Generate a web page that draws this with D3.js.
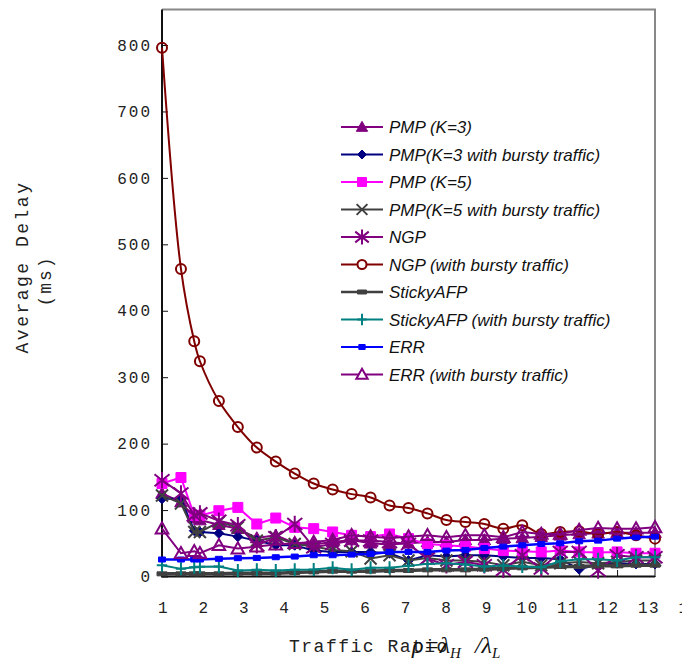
<!DOCTYPE html>
<html>
<head>
<meta charset="utf-8">
<script src="https://cdn.jsdelivr.net/npm/d3@7"></script>
<style>
  body { margin: 0; background: #fff; }
  svg { display: block; }
  .mono { font-family: "Liberation Mono", "DejaVu Sans Mono", monospace; fill: #222; }
  .legend text { font-family: "Liberation Sans", Arial, sans-serif; font-style: italic; font-size: 17px; fill: #111; }
</style>
</head>
<body>
<svg width="682" height="662"></svg>
<script>
// ---- data ----
const xValues = [1, 1.5, 1.85, 2, 2.5, 3, 3.5, 4, 4.5, 5, 5.5, 6, 6.5, 7, 7.5, 8, 8.5, 9, 9.5, 10, 10.5, 11, 11.5, 12, 12.5, 13, 13.5, 14];

const pmpK3        = [125, 112, 88, 85, 78, 72, 58, 62, 50, 48, 52, 55, 50, 48, 50, 52, 52, 55, 55, 57, 58, 60, 62, 64, 65, 66, 66, 66];
const pmpK3Bursty  = [117, 117, 69, 67, 65, 60, 54, 47, 47, 39, 37, 37, 37, 35, 24, 32, 30, 32, 32, 30, 28, 28, 26, 11, 18, 20, 19, 19];
const pmpK5        = [140, 149, 92, 92, 99, 104, 79, 88, 74, 72, 67, 62, 60, 64, 57, 49, 47, 45, 42, 39, 38, 37, 39, 37, 36, 37, 35, 35];
const pmpK5Bursty  = [122, 110, 67, 67, 82, 74, 54, 59, 49, 45, 40, 38, 27, 32, 24, 28, 24, 24, 22, 17, 22, 17, 20, 22, 20, 22, 24, 24];
const ngp          = [145, 125, 92, 95, 84, 77, 47, 59, 79, 44, 49, 54, 54, 52, 49, 27, 17, 22, 17, 10, 32, 12, 37, 37, 9, 32, 29, 29];
const ngpBursty    = [796, 463, 354, 324, 264, 225, 194, 173, 155, 140, 131, 124, 119, 107, 103, 95, 85, 82, 79, 72, 77, 64, 67, 68, 64, 67, 62, 57];
const sticky       = [4, 4, 4, 4, 4, 5, 5, 5, 6, 7, 8, 8, 8, 9, 9, 10, 10, 10, 11, 12, 13, 14, 15, 15, 16, 16, 17, 17];
const stickyBursty = [17, 11.5, 14, 14.5, 15, 9, 10, 9, 10, 10.5, 13, 10, 13, 13, 16, 19, 20, 18, 15, 16.6, 15, 14, 23, 26, 26, 24, 29, 29];
const err          = [25.6, 25.6, 25.6, 25.6, 26.6, 27.6, 28, 29, 30, 32, 32, 33, 34, 37, 37, 37, 39, 40, 43, 45, 47, 49, 50, 53, 54, 57, 59, 60];
const errBursty    = [72, 35, 38, 35, 47, 42, 45, 48, 50, 52, 55, 62, 60, 58, 60, 62, 59, 62, 62, 59, 67, 64, 64, 70, 73, 72, 72, 74];

const seriesNames = [
  "PMP (K=3)", "PMP(K=3 with bursty traffic)", "PMP (K=5)", "PMP(K=5 with bursty traffic)",
  "NGP", "NGP (with bursty traffic)", "StickyAFP", "StickyAFP (with bursty traffic)",
  "ERR", "ERR (with bursty traffic)"
];
const seriesValues = [pmpK3, pmpK3Bursty, pmpK5, pmpK5Bursty, ngp, ngpBursty, sticky, stickyBursty, err, errBursty];

const yTicks = [0, 100, 200, 300, 400, 500, 600, 700, 800];
const xTicks = [1, 2, 3, 4, 5, 6, 7, 8, 9, 10, 11, 12, 13, 14];

// ---- styles ----
const seriesColors  = ["#800080", "#000080", "#ff00ff", "#404040", "#800080", "#800000", "#404040", "#008080", "#0000ff", "#800080"];
const seriesMarkers = ["triangle", "diamond", "square", "times", "asterisk", "circle", "dash", "plus", "rect", "triangle"];
const seriesFilled  = [true, true, true, false, false, false, true, false, true, false];
const seriesWidths  = [2, 2, 2, 2, 2, 2, 3.5, 2, 2.5, 2];

const svg = d3.select("svg");

// scales: plot frame uses 13 tick intervals, labels are spread a bit wider
const x = d3.scaleLinear().domain([1, 14]).range([162, 655]);
const xLabel = d3.scaleLinear().domain([1, 14]).range([163, 689]);
const y = d3.scaleLinear().domain([0, 800]).range([576.5, 45]);
const yTop = 9.5;

// marker shapes
function markerPath(type, s) {
  const h = s / 2;
  switch (type) {
    case "triangle": return `M0,${-h * 1.05}L${h * 1.05},${h * 0.8}L${-h * 1.05},${h * 0.8}Z`;
    case "diamond": return `M0,${-h}L${h},0L0,${h}L${-h},0Z`;
    case "square": return `M${-h},${-h}H${h}V${h}H${-h}Z`;
    case "times": return `M${-h},${-h}L${h},${h}M${-h},${h}L${h},${-h}`;
    case "asterisk": return `M${-h},${-h * 0.8}L${h},${h * 0.8}M${-h},${h * 0.8}L${h},${-h * 0.8}M0,${-h * 1.1}V${h * 1.1}`;
    case "plus": return `M0,${-h}V${h}M${-h * 0.8},0H${h * 0.8}`;
    case "circle": return d3.arc()({ innerRadius: 0, outerRadius: h, startAngle: 0, endAngle: 2 * Math.PI });
    case "dash": return `M${-h},-2H${h}V2H${-h}Z`;
    case "rect": return `M${-h},-2.5H${h}V2.5H${-h}Z`;
  }
}
const markerSizes = { triangle: 12, diamond: 10, square: 10, times: 12, asterisk: 15, plus: 13, circle: 10, dash: 10, rect: 7 };

// ---- axes ----
svg.append("g")
  .attr("class", "mono")
  .attr("transform", "translate(162,0)")
  .call(d3.axisLeft(y).tickValues(yTicks).tickSize(-6).tickSizeOuter(0).tickPadding(10))
  .call(g => g.select(".domain").remove())
  .call(g => g.selectAll("line").attr("stroke", "#111"))
  .call(g => g.selectAll("text").attr("class", "mono").style("font-size", "16px").style("letter-spacing", "2px").attr("fill", "#1a1a1a"));

svg.append("g")
  .attr("transform", "translate(0,577)")
  .call(d3.axisBottom(x).tickValues(xTicks).tickSize(-7).tickSizeOuter(0).tickFormat(""))
  .call(g => g.select(".domain").remove())
  .call(g => g.selectAll("line").attr("stroke", "#111"));

svg.append("g")
  .attr("transform", "translate(0,577)")
  .call(d3.axisBottom(xLabel).tickValues(xTicks).tickSize(0).tickPadding(25))
  .call(g => g.select(".domain").remove())
  .call(g => g.selectAll("text").attr("class", "mono").style("font-size", "16px").style("letter-spacing", "1.5px").attr("fill", "#1a1a1a"));

// frame
svg.append("path")
  .attr("d", `M${x(1)},${yTop}H${x(14)}V${y(0)}`)
  .attr("fill", "none").attr("stroke", "#888").attr("stroke-width", 2);
svg.append("path")
  .attr("d", `M${x(1)},${yTop}V${y(0)}H${x(14)}`)
  .attr("fill", "none").attr("stroke", "#111").attr("stroke-width", 2);

// ---- series ----
const plot = svg.append("g");
seriesValues.forEach((vals, i) => {
  const pts = vals.map((v, j) => [xValues[j], v]);
  const line = d3.line()
    .x(d => x(d[0])).y(d => y(d[1]))
    .curve(i === 5 ? d3.curveCatmullRom : d3.curveLinear);
  const g = plot.append("g");
  g.append("path")
    .attr("d", line(pts))
    .attr("fill", "none")
    .attr("stroke", seriesColors[i])
    .attr("stroke-width", seriesWidths[i]);
  g.selectAll("path.m")
    .data(pts)
    .join("path")
    .attr("class", "m")
    .attr("transform", d => `translate(${x(d[0])},${y(d[1])})`)
    .attr("d", markerPath(seriesMarkers[i], markerSizes[seriesMarkers[i]]))
    .attr("fill", seriesFilled[i] ? seriesColors[i] : "none")
    .attr("stroke", seriesColors[i])
    .attr("stroke-width", seriesFilled[i] ? 1 : 2);
});

// ---- legend ----
const legend = svg.append("g").attr("class", "legend");
seriesNames.forEach((name, i) => {
  const row = legend.append("g").attr("transform", `translate(341,${127 + i * 27.5})`);
  row.append("line").attr("x1", 0).attr("x2", 42)
    .attr("stroke", seriesColors[i]).attr("stroke-width", seriesWidths[i] === 3.5 ? 2.5 : 2);
  row.append("path")
    .attr("transform", "translate(21,0)")
    .attr("d", markerPath(seriesMarkers[i], markerSizes[seriesMarkers[i]] * 0.9))
    .attr("fill", seriesFilled[i] ? seriesColors[i] : "#fff")
    .attr("stroke", seriesColors[i])
    .attr("stroke-width", seriesFilled[i] ? 1 : 2);
  row.append("text").attr("x", 48).attr("dy", "0.36em").text(name);
});

// ---- titles ----
svg.append("text").attr("class", "mono")
  .attr("transform", "translate(28,267) rotate(-90)")
  .attr("text-anchor", "middle")
  .style("font-size", "18px").style("letter-spacing", "2.5px")
  .text("Average Delay");
svg.append("text").attr("class", "mono")
  .attr("transform", "translate(51,281) rotate(-90)")
  .attr("text-anchor", "middle")
  .style("font-size", "18px").style("letter-spacing", "2px")
  .text("(ms)");

svg.append("text").attr("class", "mono")
  .attr("x", 289).attr("y", 652)
  .style("font-size", "18px").style("letter-spacing", "1.5px")
  .text("Traffic Ratio");

const sym = svg.append("text")
  .attr("x", 412).attr("y", 653)
  .style("font-family", "'Liberation Serif', serif")
  .style("font-style", "italic")
  .style("font-size", "24px")
  .attr("fill", "#111");
sym.append("tspan").text("\u03c1=\u03bb");
sym.append("tspan").attr("dy", 5).style("font-size", "15px").text("H");
sym.append("tspan").attr("dy", -5).attr("dx", 14).text("/\u03bb");
sym.append("tspan").attr("dy", 5).style("font-size", "15px").text("L");
</script>
</body>
</html>
